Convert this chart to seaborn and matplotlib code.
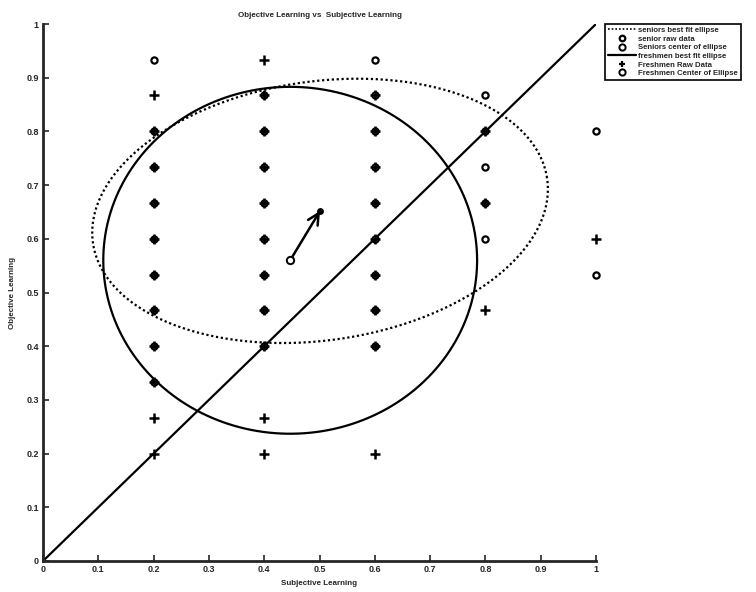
import numpy as np
import pandas as pd
import matplotlib
matplotlib.use("Agg")
import matplotlib.pyplot as plt
import seaborn as sns
from matplotlib.lines import Line2D

# ---------------- data ----------------
senior_x = [0.2]*9 + [0.4]*8 + [0.6]*9 + [0.8]*5 + [1.0]*2
senior_y = [0.933, 0.8, 0.733, 0.667, 0.6, 0.533, 0.467, 0.4, 0.333,
            0.867, 0.8, 0.733, 0.667, 0.6, 0.533, 0.467, 0.4,
            0.933, 0.867, 0.8, 0.733, 0.667, 0.6, 0.533, 0.467, 0.4,
            0.867, 0.8, 0.733, 0.667, 0.6,
            0.8, 0.533]

fresh_x = [0.2]*11 + [0.4]*11 + [0.6]*9 + [0.8]*3 + [1.0]*1
fresh_y = [0.867, 0.8, 0.733, 0.667, 0.6, 0.533, 0.467, 0.4, 0.333, 0.267, 0.2,
           0.933, 0.867, 0.8, 0.733, 0.667, 0.6, 0.533, 0.467, 0.4, 0.267, 0.2,
           0.867, 0.8, 0.733, 0.667, 0.6, 0.533, 0.467, 0.4, 0.2,
           0.8, 0.667, 0.467,
           0.6]

# ellipse fits: center, semi-axes, rotation (deg)
senior_center = [0.501, 0.652]
senior_axes = [0.415, 0.241]
senior_angle = 8.5
fresh_center = [0.447, 0.560]
fresh_axes = [0.338, 0.323]
fresh_angle = 0.0

diag_x = [0.0, 1.0]
diag_y = [0.0, 1.0]

xticks = [0, 0.1, 0.2, 0.3, 0.4, 0.5, 0.6, 0.7, 0.8, 0.9, 1]
tick_labels = ["0", "0.1", "0.2", "0.3", "0.4", "0.5", "0.6", "0.7", "0.8", "0.9", "1"]

legend_labels = ["seniors best fit ellipse", "senior raw data", "Seniors center of ellipse",
                 "freshmen best fit ellipse", "Freshmen Raw Data", "Freshmen Center of Ellipse"]


def ellipse_points(center, axes, angle_deg, n=400):
    t = np.linspace(0, 2 * np.pi, n)
    th = np.deg2rad(angle_deg)
    ex = axes[0] * np.cos(t)
    ey = axes[1] * np.sin(t)
    x = center[0] + ex * np.cos(th) - ey * np.sin(th)
    y = center[1] + ex * np.sin(th) + ey * np.cos(th)
    return x, y


# ---------------- style ----------------
sns.set_style("ticks")
plt.rcParams["font.family"] = ["Liberation Sans", "DejaVu Sans"]
plt.rcParams["font.weight"] = "bold"

fig = plt.figure(figsize=(7.56, 5.92), dpi=100)
ax = fig.add_axes([43 / 756, 1 - 561 / 592, (596 - 43) / 756, (561 - 24) / 592])

seniors_df = pd.DataFrame({"x": senior_x, "y": senior_y})
fresh_df = pd.DataFrame({"x": fresh_x, "y": fresh_y})

# senior ellipse (dotted)
sx, sy = ellipse_points(senior_center, senior_axes, senior_angle)
sns.lineplot(x=sx, y=sy, sort=False, estimator=None, ax=ax, color="black",
             linestyle=(0, (1, 1.2)), linewidth=1.6)

# senior raw data
sns.scatterplot(data=seniors_df, x="x", y="y", ax=ax, marker="o", s=20,
                color="white", edgecolor="black", linewidth=1.6, zorder=3,
                clip_on=False)

# senior center (under the arrow tip)
sns.scatterplot(x=[senior_center[0]], y=[senior_center[1]], ax=ax, marker="o",
                s=14, color="black", edgecolor="black", linewidth=1.2, zorder=3)

# freshman ellipse (solid)
fx, fy = ellipse_points(fresh_center, fresh_axes, fresh_angle)
sns.lineplot(x=fx, y=fy, sort=False, estimator=None, ax=ax, color="black",
             linewidth=1.6)

# diagonal
sns.lineplot(x=diag_x, y=diag_y, ax=ax, color="black", linewidth=1.6)

# freshmen raw data
sns.scatterplot(data=fresh_df, x="x", y="y", ax=ax, marker="+", s=42,
                color="black", linewidth=1.8, zorder=4, clip_on=False)

# arrow from freshmen centre to seniors centre
ax.annotate("", xy=(senior_center[0], senior_center[1]),
            xytext=(fresh_center[0], fresh_center[1]),
            arrowprops=dict(arrowstyle="->", color="black", lw=1.8,
                            mutation_scale=20, shrinkA=0, shrinkB=0), zorder=5)

# freshmen center
sns.scatterplot(x=[fresh_center[0]], y=[fresh_center[1]], ax=ax, marker="o",
                s=28, color="white", edgecolor="black", linewidth=1.4, zorder=6)

ax.set_xlim(0, 1)
ax.set_ylim(0, 1)
ax.set_xticks(xticks)
ax.set_xticklabels(tick_labels)
ax.set_yticks(xticks)
ax.set_yticklabels(tick_labels)
ax.tick_params(direction="in", length=4, width=1.2, labelsize=6.5, pad=3)
for lab in ax.get_xticklabels() + ax.get_yticklabels():
    lab.set_fontweight("bold")
for s in ["top", "right"]:
    ax.spines[s].set_visible(False)
for s in ["left", "bottom"]:
    ax.spines[s].set_linewidth(2.0)

ax.set_xlabel("Subjective Learning", fontsize=5.8, fontweight="bold", labelpad=4)
ax.set_ylabel("Objective Learning", fontsize=5.8, fontweight="bold", labelpad=7)
ax.set_title("Objective Learning vs  Subjective Learning", fontsize=5.8,
             fontweight="bold", pad=5)

handles = [
    Line2D([], [], color="black", linestyle=(0, (1, 1.2)), linewidth=1.2),
    Line2D([], [], color="black", marker="o", linestyle="", markersize=4,
           markerfacecolor="white", markeredgewidth=1.6),
    Line2D([], [], color="black", marker="o", linestyle="", markersize=4.5,
           markerfacecolor="white", markeredgewidth=1.4),
    Line2D([], [], color="black", linewidth=1.6),
    Line2D([], [], color="black", marker="+", linestyle="", markersize=5,
           markeredgewidth=1.6),
    Line2D([], [], color="black", marker="o", linestyle="", markersize=4.5,
           markerfacecolor="white", markeredgewidth=1.4),
]
leg = fig.legend(handles, legend_labels, loc="upper left",
                 bbox_to_anchor=(605 / 756, 1 - 24 / 592),
                 prop={"size": 5.6, "weight": "bold"}, frameon=True, fancybox=False,
                 edgecolor="black", framealpha=1, handlelength=3.6,
                 handletextpad=0.35, labelspacing=0.15, borderpad=0.35,
                 borderaxespad=0)
leg.get_frame().set_linewidth(1.2)

fig.savefig("out.png", dpi=100)
